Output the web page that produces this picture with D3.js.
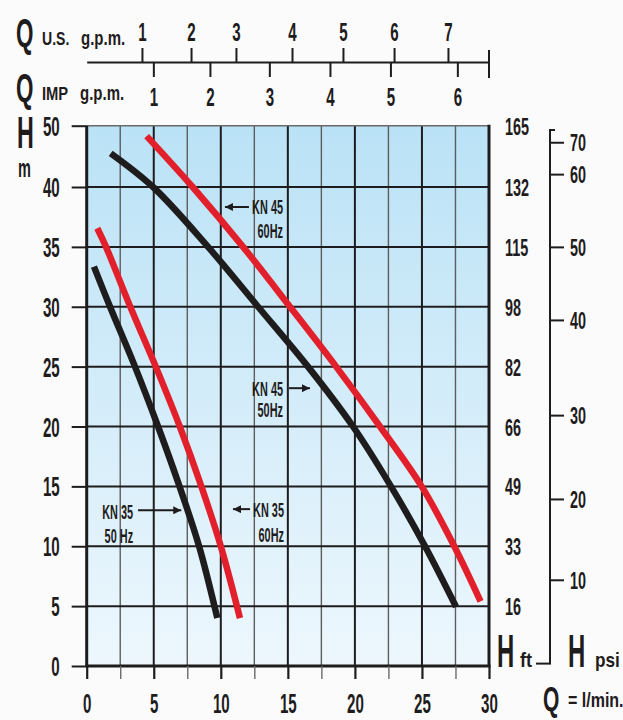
<!DOCTYPE html>
<html><head><meta charset="utf-8">
<script src="https://cdn.jsdelivr.net/npm/d3@7"></script>
<style>html,body{margin:0;padding:0;background:#fbfbfb;}svg{display:block;}</style>
</head><body><svg id="c" width="623" height="720"></svg>
<script>
// ---------- data ----------
const flowTicks = [0, 5, 10, 15, 20, 25, 30];
const flowMinor = [2.5, 7.5, 12.5, 17.5, 22.5, 27.5];
const headTicks = [0, 5, 10, 15, 20, 25, 30, 35, 40, 50];
const headGrid = [5, 10, 15, 20, 25, 30, 35, 40];
const feetLabels = ["16", "33", "49", "66", "82", "98", "115", "132", "165"];
const feetAtHead = [5, 10, 15, 20, 25, 30, 35, 40, 50];
const psiLabels = ["10", "20", "30", "40", "50", "60", "70"];
const psiAtHead = [7.2, 13.95, 20.95, 28.9, 35.0, 42.1, 47.3];
const usGpmLabels = ["1", "2", "3", "4", "5", "6", "7"];
const usGpmAt = [4.12, 7.78, 11.13, 15.31, 19.11, 22.92, 26.94];
const impGpmLabels = ["1", "2", "3", "4", "5", "6"];
const impGpmAt = [4.97, 9.19, 13.62, 18.14, 22.65, 27.64];

const kn35_50_q = [0.54, 1.74, 3.6, 5.32, 6.92, 8.38, 9.74];
const kn35_50_h = [33.35, 30, 25, 20, 15, 10, 4.0];
const kn35_60_q = [0.79, 1.44, 3.25, 5.15, 6.94, 8.55, 10.0, 11.43];
const kn35_60_h = [36.55, 35, 30, 25, 20, 15, 10, 4.0];
const kn45_50_q = [1.79, 4.95, 9.05, 12.78, 16.5, 19.86, 22.69, 25.23, 27.54];
const kn45_50_h = [45.5, 40, 35, 30, 25, 20, 15, 10, 4.95];
const kn45_60_q = [4.47, 7.9, 11.66, 15.16, 18.6, 21.87, 24.98, 27.41, 29.37];
const kn45_60_h = [48.3, 40, 35, 30, 25, 20, 15, 10, 5.4];

const seriesNames = ["KN35 50Hz", "KN35 60Hz", "KN45 50Hz", "KN45 60Hz"];

// ---------- setup ----------
const FONT = "'Liberation Sans', Arial, sans-serif";
const INK = "#1f1c1d";
const RED = "#e2202b";
const svg = d3.select("#c");

const x = d3.scaleLinear().domain([0, 30]).range([86.7, 489]);
const y = d3.scaleLinear().domain([0, 40, 50]).range([666, 187, 125.7]);

function txt(parent, str, tx, ty, size, sx, anchor) {
  return parent.append("text")
    .attr("transform", `translate(${tx},${ty}) scale(${sx},1)`)
    .attr("text-anchor", anchor || "start")
    .attr("font-family", FONT).attr("font-weight", "bold")
    .attr("font-size", size).attr("fill", INK).text(str);
}
function styleAxisText(g, dx, dy, size, sx) {
  g.selectAll(".tick text")
    .attr("x", null).attr("y", null).attr("dy", null)
    .attr("transform", `translate(${dx},${dy}) scale(${sx},1)`)
    .attr("font-family", FONT).attr("font-weight", "bold")
    .attr("font-size", size).attr("fill", INK);
}

// background gradient
const defs = svg.append("defs");
const grad = defs.append("linearGradient").attr("id", "bg")
  .attr("x1", 0).attr("y1", 0).attr("x2", 0).attr("y2", 1);
grad.append("stop").attr("offset", "0%").attr("stop-color", "#bae2f6");
grad.append("stop").attr("offset", "100%").attr("stop-color", "#edf7fd");
defs.append("marker").attr("id", "ah").attr("viewBox", "0 0 10 10")
  .attr("refX", 10).attr("refY", 5).attr("markerWidth", 9).attr("markerHeight", 8)
  .attr("markerUnits", "userSpaceOnUse").attr("orient", "auto")
  .append("path").attr("d", "M0,0 L10,5 L0,10 z").attr("fill", INK);

svg.append("rect").attr("x", x(0)).attr("y", y(50))
  .attr("width", x(30) - x(0)).attr("height", y(0) - y(50)).attr("fill", "url(#bg)");

// grid
const grid = svg.append("g");
grid.selectAll(".vmin").data(flowMinor).join("line")
  .attr("x1", d => x(d)).attr("x2", d => x(d)).attr("y1", y(50)).attr("y2", y(0))
  .attr("stroke", "#5d5d5d").attr("stroke-width", 1.4);
grid.selectAll(".vmaj").data(flowTicks.slice(1, -1)).join("line")
  .attr("x1", d => x(d)).attr("x2", d => x(d)).attr("y1", y(50)).attr("y2", y(0))
  .attr("stroke", INK).attr("stroke-width", 2);
grid.selectAll(".h").data(headGrid).join("line")
  .attr("x1", x(0)).attr("x2", x(30)).attr("y1", d => y(d)).attr("y2", d => y(d))
  .attr("stroke", INK).attr("stroke-width", 2);
grid.append("line").attr("x1", x(0)).attr("x2", x(30)).attr("y1", y(50)).attr("y2", y(50))
  .attr("stroke", "#6a6a6a").attr("stroke-width", 1.5);

// curves
const lineGen = d3.line().x(d => x(d[0])).y(d => y(d[1])).curve(d3.curveCatmullRom.alpha(0.5));
const series = [
  { q: kn35_50_q, h: kn35_50_h, c: INK },
  { q: kn35_60_q, h: kn35_60_h, c: RED },
  { q: kn45_50_q, h: kn45_50_h, c: INK },
  { q: kn45_60_q, h: kn45_60_h, c: RED }
];
svg.append("g").selectAll("path").data(series).join("path")
  .attr("d", s => lineGen(s.q.map((v, i) => [v, s.h[i]])))
  .attr("fill", "none").attr("stroke", s => s.c).attr("stroke-width", 6.5)
  .attr("stroke-linecap", "butt");

// borders
const border = svg.append("g").attr("stroke", INK).attr("stroke-width", 3);
border.append("line").attr("x1", x(0)).attr("x2", x(0)).attr("y1", y(50)).attr("y2", y(0));
border.append("line").attr("x1", x(30)).attr("x2", x(30)).attr("y1", y(50) - 1).attr("y2", y(0));
border.append("line").attr("x1", x(0) - 1).attr("x2", x(30) + 1.5).attr("y1", y(0)).attr("y2", y(0));

// left axis (m)
const gl = svg.append("g").attr("transform", `translate(${x(0)},0)`)
  .call(d3.axisLeft(y).tickValues(headTicks).tickSize(15).tickSizeOuter(0).tickFormat(d3.format("d")));
gl.select(".domain").remove();
gl.selectAll(".tick line").attr("stroke", INK).attr("stroke-width", 2);
styleAxisText(gl, -27, 9.6, 27, 0.56);

// bottom axis (l/min)
const allFlow = flowTicks.concat(flowMinor).sort((a, b) => a - b);
const gb = svg.append("g").attr("transform", `translate(0,${y(0)})`)
  .call(d3.axisBottom(x).tickValues(allFlow).tickSize(13).tickSizeOuter(0)
    .tickFormat(d => flowTicks.includes(d) ? d3.format("d")(d) : ""));
gb.select(".domain").remove();
gb.selectAll(".tick line")
  .attr("stroke", d => flowTicks.includes(d) ? INK : "#6a6a6a")
  .attr("stroke-width", d => flowTicks.includes(d) ? 2.2 : 1.4);
styleAxisText(gb, 0, 47, 27, 0.56);

// right axis (ft)
const gr = svg.append("g").attr("transform", `translate(${x(30)},0)`)
  .call(d3.axisRight(y).tickValues(feetAtHead).tickSize(0).tickSizeOuter(0)
    .tickFormat((d, i) => feetLabels[i]));
gr.select(".domain").remove();
styleAxisText(gr, 16, 8.6, 24, 0.6);

// psi axis
const psiX = 550;
const gp = svg.append("g").attr("transform", `translate(${psiX},0)`)
  .call(d3.axisRight(y).tickValues(psiAtHead).tickSize(14).tickSizeOuter(0)
    .tickFormat((d, i) => psiLabels[i]));
gp.select(".domain").remove();
gp.selectAll(".tick line").attr("stroke", INK).attr("stroke-width", 2);
styleAxisText(gp, 20, 8.6, 24, 0.6);
gp.append("line").attr("x1", 0).attr("x2", 0).attr("y1", y(49.3)).attr("y2", y(0.2))
  .attr("stroke", INK).attr("stroke-width", 2);
gp.append("line").attr("x1", -1).attr("x2", 5).attr("y1", y(49.3)).attr("y2", y(49.3))
  .attr("stroke", INK).attr("stroke-width", 2);
gp.append("line").attr("x1", -14).attr("x2", 1).attr("y1", y(0.2)).attr("y2", y(0.2))
  .attr("stroke", INK).attr("stroke-width", 2);

// top axes (gpm)
const topY = 62;
const gu = svg.append("g").attr("transform", `translate(0,${topY})`)
  .call(d3.axisTop(x).tickValues(usGpmAt).tickSize(14).tickSizeOuter(0)
    .tickFormat((d, i) => usGpmLabels[i]));
gu.select(".domain").attr("stroke", INK).attr("stroke-width", 2);
gu.selectAll(".tick line").attr("stroke", INK).attr("stroke-width", 2);
styleAxisText(gu, 0, -21, 26, 0.58);
gu.append("line").attr("x1", x(30)).attr("x2", x(30)).attr("y1", -12).attr("y2", 16)
  .attr("stroke", INK).attr("stroke-width", 2);
const gi = svg.append("g").attr("transform", `translate(0,${topY})`)
  .call(d3.axisBottom(x).tickValues(impGpmAt).tickSize(15).tickSizeOuter(0)
    .tickFormat((d, i) => impGpmLabels[i]));
gi.select(".domain").remove();
gi.selectAll(".tick line").attr("stroke", INK).attr("stroke-width", 2);
styleAxisText(gi, 0, 44, 26, 0.58);

// axis titles
txt(svg, "Q", 16, 47, 40, 0.56);
txt(svg, "U.S.", 42, 45, 18, 0.78);
txt(svg, "g.p.m.", 81, 45, 20, 0.75);
txt(svg, "Q", 16, 102, 40, 0.56);
txt(svg, "IMP", 42, 100, 18, 0.82);
txt(svg, "g.p.m.", 80, 100, 20, 0.75);
txt(svg, "H", 17, 148, 44, 0.53);
txt(svg, "m", 18, 177, 25, 0.58);
txt(svg, "H", 497, 667, 46, 0.52);
txt(svg, "ft", 520, 667, 20, 0.9);
txt(svg, "H", 568, 667, 46, 0.52);
txt(svg, "psi", 595, 667, 20, 0.86);
txt(svg, "Q", 543, 711, 35, 0.6);
txt(svg, "= l/min.", 568, 707, 20, 0.8);

// curve annotations (flow, head units)
const notes = [
  { lines: ["KN 45", "60Hz"], q: 14.64, h: [38.33, 36.4], a: [12.1, 10.31, 38.33] },
  { lines: ["KN 45", "50Hz"], q: 14.64, h: [23.2, 21.46], a: [15.09, 16.65, 23.2] },
  { lines: ["KN 35", "50 Hz"], q: 3.46, h: [12.94, 10.86], a: [3.83, 7.05, 13.0] },
  { lines: ["KN 35", "60Hz"], q: 14.71, h: [13.03, 10.94], a: [12.18, 10.91, 13.1] }
];
const ng = svg.append("g");
notes.forEach(n => {
  n.lines.forEach((s, i) => txt(ng, s, x(n.q), y(n.h[i]) + 7.5, 21, 0.52, "end"));
  ng.append("line").attr("x1", x(n.a[0])).attr("x2", x(n.a[1]))
    .attr("y1", y(n.a[2])).attr("y2", y(n.a[2]))
    .attr("stroke", INK).attr("stroke-width", 2).attr("marker-end", "url(#ah)");
});
</script></body></html>
